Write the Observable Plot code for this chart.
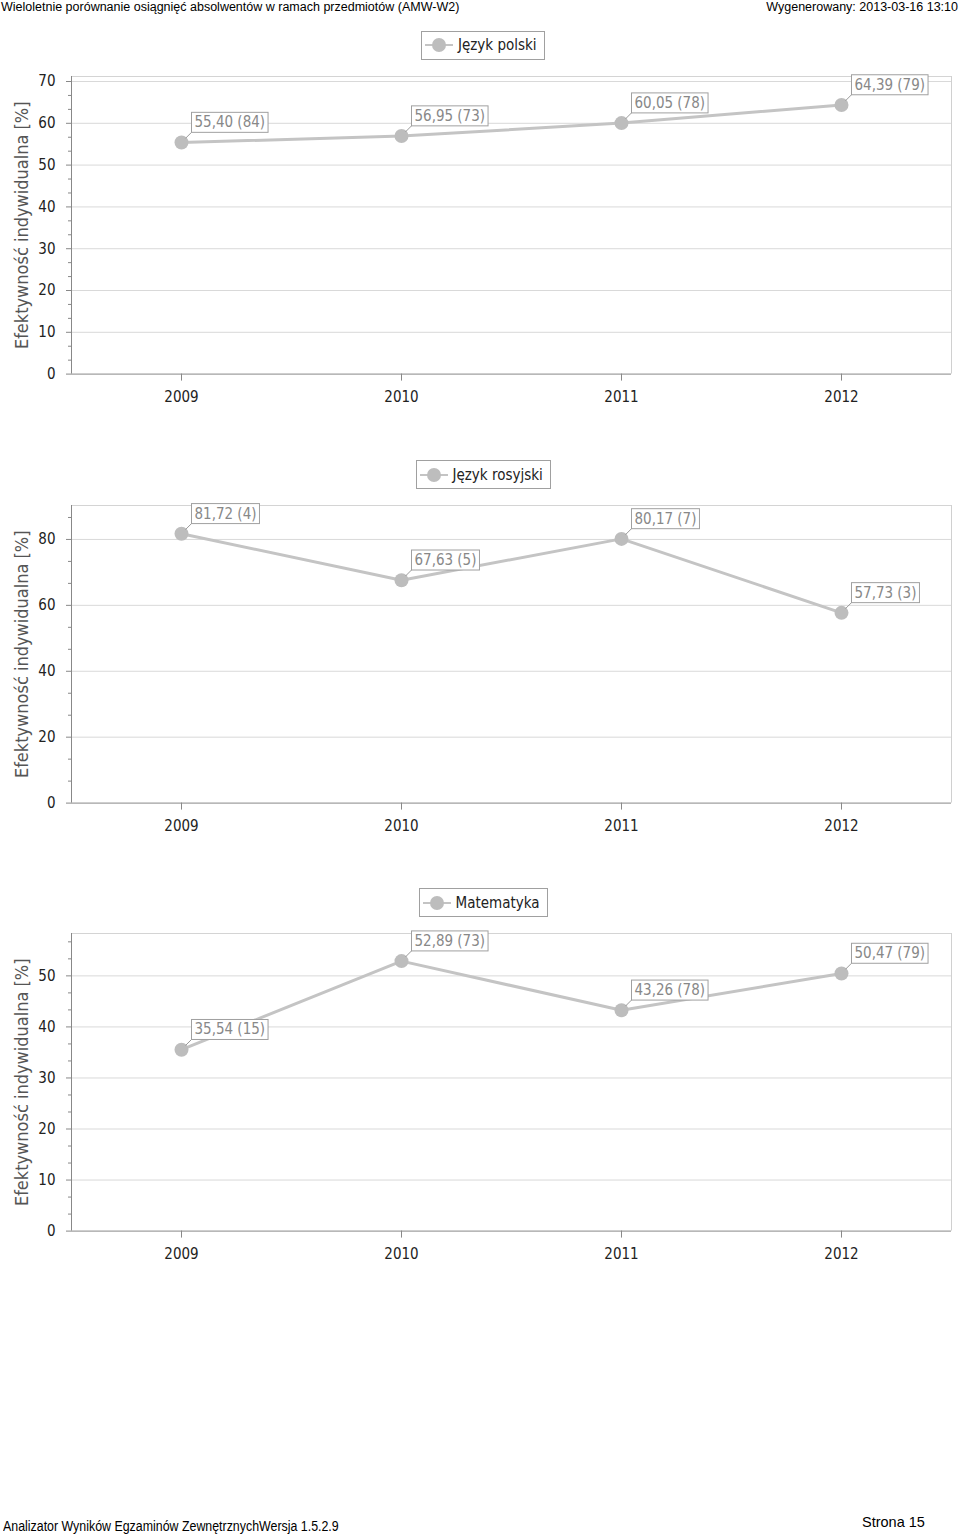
<!DOCTYPE html>
<html><head><meta charset="utf-8">
<script src="https://cdn.jsdelivr.net/npm/d3@7"></script>
<script src="https://cdn.jsdelivr.net/npm/@observablehq/plot@0.6"></script>
<style>
body{margin:0;background:#fff;}
#page{position:relative;width:960px;height:1534px;overflow:hidden;background:#fff;font-family:"DejaVu Sans Condensed","DejaVu Sans",sans-serif;}
.hdr{position:absolute;font-family:"Liberation Sans",Arial,sans-serif;font-size:12.5px;color:#000;white-space:nowrap;line-height:1;}
.foot{position:absolute;font-family:"Liberation Sans",Arial,sans-serif;font-size:14px;color:#000;white-space:nowrap;line-height:1;}
.legend{position:absolute;box-sizing:border-box;border:1px solid #a0a0a0;background:#fff;height:29px;display:flex;align-items:center;padding:0 7px 0 3px;font-size:15px;color:#222;white-space:nowrap;}
.legend svg{margin-right:5px;}
.chart{position:absolute;left:0;}
</style></head><body><div id="page"></div>
<script>
// ---- data ----
const years = [2009, 2010, 2011, 2012];
const polskiName = "Język polski";
const polskiValues = [55.40, 56.95, 60.05, 64.39];
const polskiCounts = [84, 73, 78, 79];
const polskiYTicks = [0, 10, 20, 30, 40, 50, 60, 70];
const rosyjskiName = "Język rosyjski";
const rosyjskiValues = [81.72, 67.63, 80.17, 57.73];
const rosyjskiCounts = [4, 5, 7, 3];
const rosyjskiYTicks = [0, 20, 40, 60, 80];
const matematykaName = "Matematyka";
const matematykaValues = [35.54, 52.89, 43.26, 50.47];
const matematykaCounts = [15, 73, 78, 79];
const matematykaYTicks = [0, 10, 20, 30, 40, 50];
const yTitle = "Efektywność indywidualna [%]";
const headerLeft = "Wieloletnie porównanie osiągnięć absolwentów w ramach przedmiotów (AMW-W2)";
const headerRight = "Wygenerowany: 2013-03-16 13:10";
const footerLeft = "Analizator Wyników Egzaminów ZewnętrznychWersja 1.5.2.9";
const footerRight = "Strona 15";

// ---- layout ----
const panels = [
  {name: polskiName, values: polskiValues, counts: polskiCounts, ticks: polskiYTicks, yMax: 71.2, plotTop: 75.7},
  {name: rosyjskiName, values: rosyjskiValues, counts: rosyjskiCounts, ticks: rosyjskiYTicks, yMax: 90.3, plotTop: 505},
  {name: matematykaName, values: matematykaValues, counts: matematykaCounts, ticks: matematykaYTicks, yMax: 58.3, plotTop: 933.3}
];
const PLOT_H = 297.6, MT = 30, MB = 50;
const page = document.getElementById("page");
const NS = "http://www.w3.org/2000/svg";

function addDiv(cls, text, css) {
  const d = document.createElement("div");
  d.className = cls; d.textContent = text;
  Object.assign(d.style, css);
  page.appendChild(d);
  return d;
}
addDiv("hdr", headerLeft, {left: "1px", top: "1px"});
addDiv("hdr", headerRight, {right: "2px", top: "1px"});
addDiv("foot", footerLeft, {left: "3px", top: "1519px", transform: "scaleX(0.885)", transformOrigin: "0 0"});
addDiv("foot", footerRight, {left: "862px", top: "1515px", fontSize: "14.5px"});

const fmt = v => v.toFixed(2).replace(".", ",");
const labelPattern = /^\d+,\d\d \(\d+\)$/;

panels.forEach(p => {
  const data = years.map((year, i) => ({year, value: p.values[i], label: `${fmt(p.values[i])} (${p.counts[i]})`}));
  const step = p.ticks[1] - p.ticks[0];
  const minor = d3.range(0, p.yMax, step / 3).filter(v => !p.ticks.some(t => Math.abs(t - v) < 1e-6));
  const svg = Plot.plot({
    width: 960, height: MT + PLOT_H + MB,
    marginTop: MT, marginBottom: MB, marginLeft: 71, marginRight: 9,
    style: {fontFamily: '"DejaVu Sans Condensed","DejaVu Sans",sans-serif', fontSize: "15px", background: "transparent", overflow: "visible"},
    x: {type: "linear", domain: [2008.5, 2012.5]},
    y: {domain: [0, p.yMax]},
    marks: [
      Plot.ruleY(p.ticks.filter(t => t > 0), {stroke: "#d9d9d9"}),
      Plot.ruleY([p.yMax], {stroke: "#d4d4d4"}),
      Plot.ruleX([2012.5], {stroke: "#d0d0d0"}),
      Plot.ruleY([0], {stroke: "#888"}),
      Plot.ruleX([2008.5], {stroke: "#888"}),
      Plot.axisY({ticks: p.ticks, tickSize: 5, tickPadding: 11, stroke: "#888", fill: "#222", label: null}),
      Plot.axisY({ticks: minor, tickSize: 3, tickFormat: () => "", stroke: "#888", label: null}),
      Plot.axisX({ticks: years, tickSize: 7, tickPadding: 10, tickFormat: d => String(d), stroke: "#888", fill: "#222", label: null}),
      Plot.line(data, {x: "year", y: "value", stroke: "#c4c4c4", strokeWidth: 3}),
      Plot.dot(data, {x: "year", y: "value", r: 7, fill: "#bdbdbd", stroke: "none"}),
      Plot.text(data, {x: "year", y: "value", text: "label", dx: 13, dy: -20, textAnchor: "start", fill: "#888"}),
      Plot.text([yTitle], {text: d => d, frameAnchor: "left", textAnchor: "middle", rotate: -90, dx: -49.5, fontSize: 18, fill: "#555"})
    ]
  });
  svg.classList.add("chart");
  svg.style.top = (p.plotTop - MT) + "px";
  page.appendChild(svg);
  // boxes and leaders around value labels
  Array.from(svg.querySelectorAll("text")).filter(t => labelPattern.test(t.textContent.trim())).forEach(t => {
    const bb = t.getBBox();
    const tr = t.getAttribute("transform");
    const cy = bb.y + bb.height / 2;
    const rect = document.createElementNS(NS, "rect");
    rect.setAttribute("x", bb.x - 3); rect.setAttribute("y", cy - 10);
    rect.setAttribute("width", bb.width + 6); rect.setAttribute("height", 20);
    rect.setAttribute("fill", "#fff"); rect.setAttribute("stroke", "#a0a0a0");
    const line = document.createElementNS(NS, "line");
    line.setAttribute("x1", bb.x - 9); line.setAttribute("y1", cy + 16);
    line.setAttribute("x2", bb.x - 3); line.setAttribute("y2", cy + 10);
    line.setAttribute("stroke", "#999");
    if (tr) { rect.setAttribute("transform", tr); line.setAttribute("transform", tr); }
    t.parentNode.insertBefore(line, t);
    t.parentNode.insertBefore(rect, t);
  });
  // legend
  const lg = document.createElement("div");
  lg.className = "legend";
  lg.innerHTML = `<svg width="28" height="16"><line x1="0" y1="8" x2="28" y2="8" stroke="#c4c4c4" stroke-width="2"/><circle cx="14" cy="8" r="7" fill="#bdbdbd"/></svg>`;
  const sp = document.createElement("span"); sp.textContent = p.name; lg.appendChild(sp);
  lg.style.top = (p.plotTop - 45) + "px";
  page.appendChild(lg);
  lg.style.left = (483 - lg.offsetWidth / 2) + "px";
});
</script></body></html>
